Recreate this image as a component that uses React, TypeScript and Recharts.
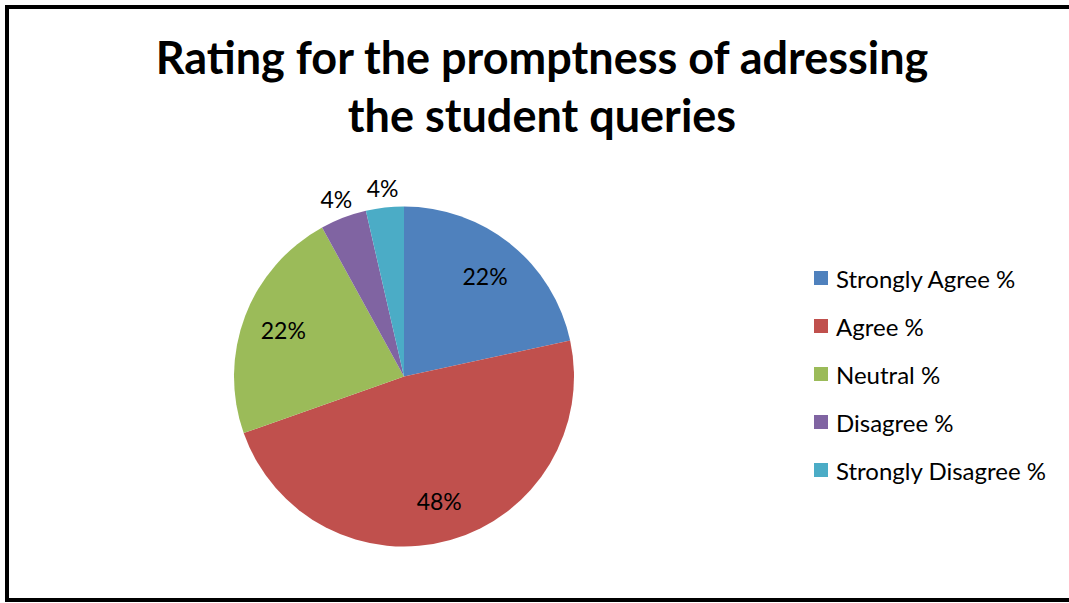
import { PieChart, Pie, Cell, Legend } from "recharts";

const categories = ["Strongly Agree %", "Agree %", "Neutral %", "Disagree %", "Strongly Disagree %"];
const shares = [21.6, 48.0, 22.4, 4.4, 3.6];
const colors = ["#4F81BD", "#C0504D", "#9BBB59", "#8064A2", "#4BACC6"];
const titleLines = ["Rating for the promptness of adressing", "the student queries"];

const FONT = "Lato, 'Open Sans', sans-serif";

const data = categories.map((name, i) => ({ name, value: shares[i] }));

const RADIAN = Math.PI / 180;

// inside labels for big slices, outside for the thin ones (like Excel's best fit)
function renderLabel(props: any) {
  const { cx, cy, midAngle, outerRadius, percent } = props;
  const r = percent < 0.1 ? outerRadius + 20 : outerRadius * 0.76;
  const x = cx + r * Math.cos(-midAngle * RADIAN);
  const y = cy + r * Math.sin(-midAngle * RADIAN);
  return (
    <text
      x={x}
      y={y}
      fill="#000"
      textAnchor="middle"
      dominantBaseline="central"
      fontSize={23}
      fontFamily={FONT}
    >
      {`${Math.round(percent * 100)}%`}
    </text>
  );
}

// legend drawn in the data order (recharts would sort it otherwise)
function LegendBox() {
  return (
    <div style={{ fontFamily: FONT, fontSize: 24, color: "#000" }}>
      {categories.map((name, i) => (
        <div key={name} style={{ display: "flex", alignItems: "center", height: 48 }}>
          <span
            style={{
              display: "inline-block",
              width: 14,
              height: 14,
              background: colors[i],
              marginRight: 8,
            }}
          />
          <span>{name}</span>
        </div>
      ))}
    </div>
  );
}

export default function App() {
  return (
    <div style={{ position: "fixed", left: 0, top: 0, width: 1069, height: 603, background: "#fff", overflow: "hidden" }}>
      <svg width={1069} height={603} style={{ position: "absolute", left: 0, top: 0 }}>
        {/* chart frame, open on the right like the cropped original */}
        <path d="M1069,7 H7 V600 H1069" fill="none" stroke="#000" strokeWidth={4} />
        {titleLines.map((t, i) => (
          <text
            key={t}
            x={542}
            y={74 + i * 58}
            textAnchor="middle"
            fontFamily={FONT}
            fontWeight="bold"
            fontSize={45}
            fill="#000"
          >
            {t}
          </text>
        ))}
      </svg>
      <div style={{ position: "absolute", left: 0, top: 0 }}>
        <PieChart width={1069} height={603} margin={{ top: 0, right: 0, bottom: 0, left: 0 }}>
          <Pie
            data={data}
            dataKey="value"
            nameKey="name"
            cx={404}
            cy={376.5}
            outerRadius={170}
            startAngle={90}
            endAngle={-270}
            stroke="none"
            label={renderLabel}
            labelLine={false}
            isAnimationActive={false}
          >
            {data.map((d, i) => (
              <Cell key={d.name} fill={colors[i]} />
            ))}
          </Pie>
          <Legend
            layout="vertical"
            content={<LegendBox />}
            wrapperStyle={{ position: "absolute", left: 814, top: 254, width: 255 }}
          />
        </PieChart>
      </div>
    </div>
  );
}
